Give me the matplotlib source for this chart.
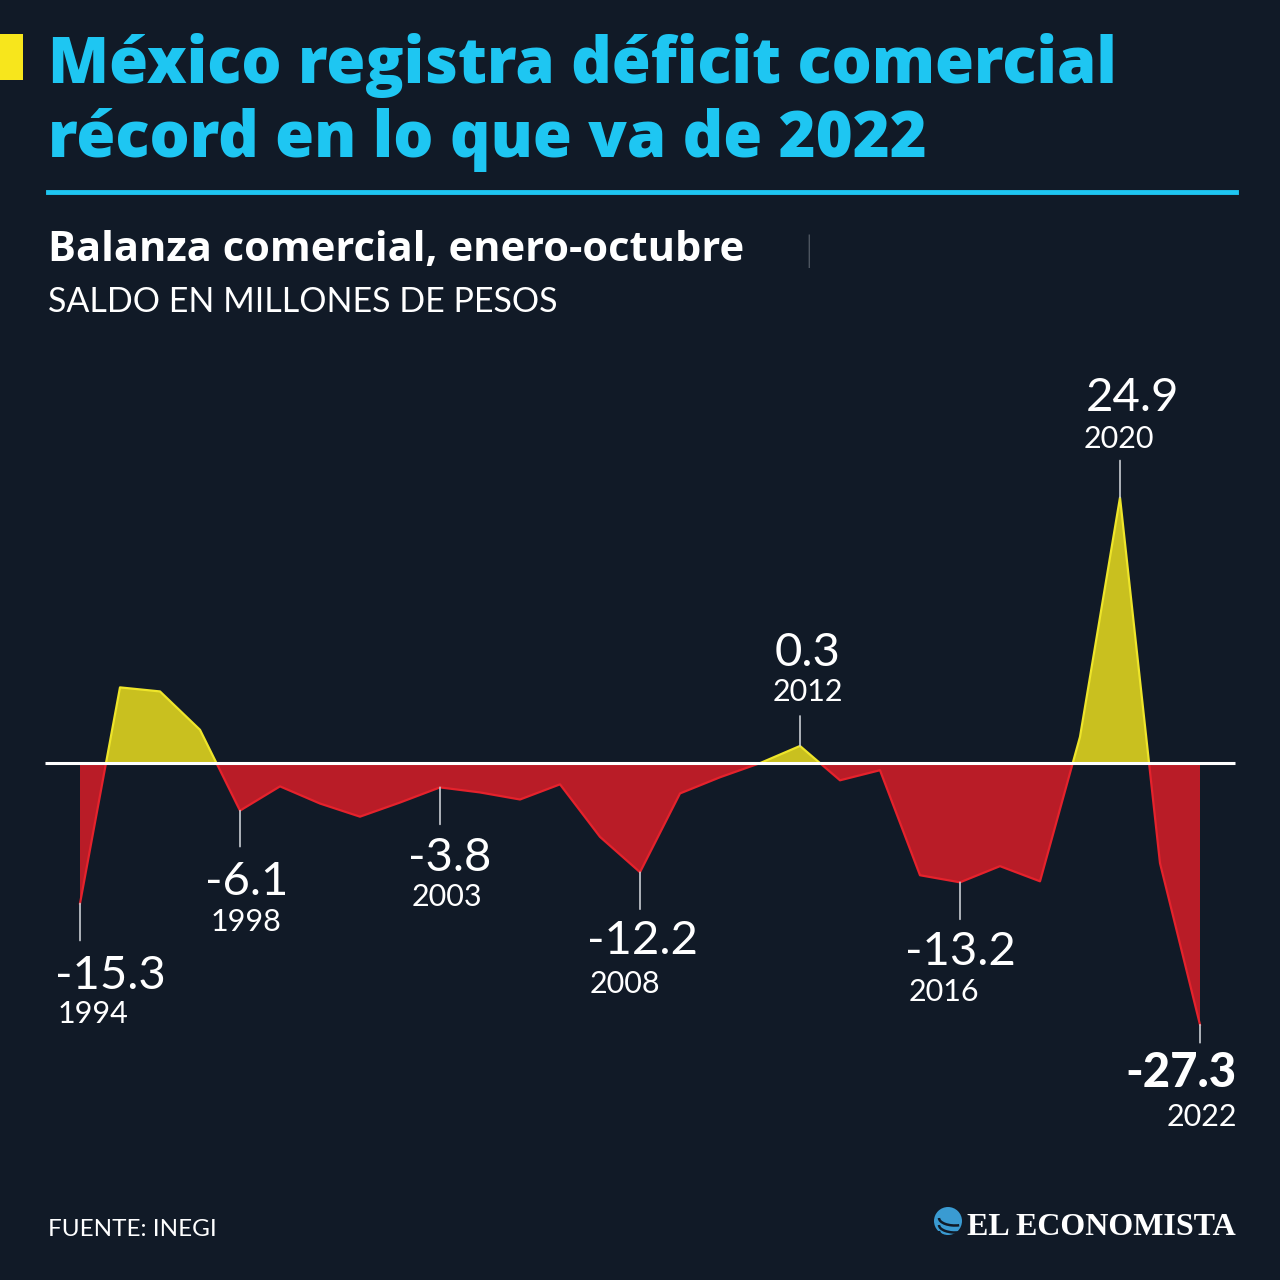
import matplotlib
matplotlib.use("Agg")
import matplotlib.pyplot as plt
from matplotlib.patches import Rectangle, Circle, Arc
import numpy as np

# ---------------- data ----------------
years = list(range(1994, 2023))
balance = [-15.3, 6.1, 5.7, 1.9, -6.1, -3.7, -5.4, -6.7, -5.3, -3.8,
           -4.3, -5.0, -3.5, -8.7, -12.2, -4.4, -2.8, -1.4, 0.3, -3.1,
           -2.1, -12.5, -13.2, -11.6, -13.1, 1.2, 24.9, -11.3, -27.3]
labeled_years = [1994, 1998, 2003, 2008, 2012, 2016, 2020, 2022]

title_lines = ["México registra déficit comercial", "récord en lo que va de 2022"]
subtitle = "Balanza comercial, enero-octubre"
unit_text = "SALDO EN MILLONES DE PESOS"
source_text = "FUENTE: INEGI"
brand_text = "EL ECONOMISTA"

# ---------------- style ----------------
BG = "#111a27"
CYAN = "#1ec6f2"
YEL_FILL = "#c9c01f"
YEL_EDGE = "#eee52a"
RED_FILL = "#b91c27"
RED_EDGE = "#e5222c"
WHITE = "#ffffff"
LEAD = "#c8ccd2"
BASE = -1.4   # level of the white rule where colours split

W = H = 1280
fig = plt.figure(figsize=(12.8, 12.8), dpi=100, facecolor=BG)
ax = fig.add_axes([0, 0, 1, 1])
ax.set_facecolor(BG)
ax.set_xlim(1992, 2024)
ax.set_ylim((749 - 1280) / 10.1, 749 / 10.1)
ax.axis("off")

def fx(px):
    return px / W

def fy(py):
    return 1 - py / H

yv = np.array(balance)
xv = np.array(years)
ax.fill_between(xv, yv, BASE, where=yv >= BASE, interpolate=True,
                color=YEL_FILL, lw=0, zorder=2)
ax.fill_between(xv, yv, BASE, where=yv <= BASE, interpolate=True,
                color=RED_FILL, lw=0, zorder=2)

l_up, = ax.plot(xv, yv, color=YEL_EDGE, lw=1.6, zorder=3)
l_up.set_clip_path(Rectangle((1990, BASE), 40, 200, transform=ax.transData))
l_dn, = ax.plot(xv, yv, color=RED_EDGE, lw=1.6, zorder=3)
l_dn.set_clip_path(Rectangle((1990, BASE - 200), 40, 200, transform=ax.transData))

ax.hlines(BASE, 1993.125, 2022.875, color=WHITE, lw=2.2, zorder=4)

# label placement (pixel offsets from the point): value dx, dy, year dx, dy, lead length
offsets = {
    1994: (30, -72, 13, -110, -37),
    1998: (7, -71, 6, -111, -36),
    2003: (10, -71, 7, -110, -37),
    2008: (2, -69, -15, -112, -37),
    2012: (8, 93, 8, 54, 30),
    2016: (0, -70, -16, -110, -37),
    2020: (12, 100, -1, 59, 37),
}
VAL_FONT = dict(family="Lato", weight="normal", size=34, color=WHITE)
YR_FONT = dict(family="Lato", weight="normal", size=22, color=WHITE)

for yr in labeled_years:
    v = balance[years.index(yr)]
    txt = f"{v:.1f}"
    if yr == 2022:
        ax.annotate("", xy=(yr, v), xytext=(0, -18), textcoords="offset pixels",
                    arrowprops=dict(arrowstyle="-", color=LEAD, lw=1.2,
                                    shrinkA=0, shrinkB=0), zorder=5)
        ax.annotate(txt, xy=(yr, v), xytext=(37, -48), textcoords="offset pixels",
                    ha="right", va="center", family="Lato", weight="black",
                    size=34, color=WHITE)
        ax.annotate(str(yr), xy=(yr, v), xytext=(37, -92), textcoords="offset pixels",
                    ha="right", va="center", **YR_FONT)
        continue
    vdx, vdy, ydx, ydy, ld = offsets[yr]
    ax.annotate("", xy=(yr, v), xytext=(0, ld), textcoords="offset pixels",
                arrowprops=dict(arrowstyle="-", color=LEAD, lw=1.2,
                                shrinkA=0, shrinkB=0), zorder=5)
    ax.annotate(txt, xy=(yr, v), xytext=(vdx, vdy), textcoords="offset pixels",
                ha="center", va="center", **VAL_FONT)
    ax.annotate(str(yr), xy=(yr, v), xytext=(ydx, ydy), textcoords="offset pixels",
                ha="center", va="center", **YR_FONT)

# ---------------- header ----------------
fig.patches.append(Rectangle((fx(0), fy(80)), fx(23), 46 / H, transform=fig.transFigure,
                             facecolor="#f7e61c", edgecolor="none"))
fig.text(fx(48), fy(83), title_lines[0], family="Open Sans", weight="heavy", size=45.5,
         color=CYAN, ha="left", va="baseline")
fig.text(fx(48), fy(157), title_lines[1], family="Open Sans", weight="heavy", size=45.5,
         color=CYAN, ha="left", va="baseline")
fig.add_artist(plt.Line2D([fx(48), fx(1236)], [fy(192), fy(192)], color=CYAN, lw=3.5,
                          transform=fig.transFigure))
fig.text(fx(48), fy(261), subtitle, family="Open Sans", weight="bold", size=30,
         color=WHITE, ha="left", va="baseline")
fig.text(fx(804), fy(261), "|", family="Lato", weight="light", size=26,
         color="#d0d4da", ha="left", va="baseline")
fig.text(fx(48), fy(312), unit_text, family="Lato", weight="normal", size=24.5,
         color=WHITE, ha="left", va="baseline")

# ---------------- footer ----------------
fig.text(fx(48), fy(1236), source_text, family=["Liberation Sans Narrow", "Lato"],
         size=17.5, color=WHITE, ha="left", va="baseline")
fig.text(fx(1236), fy(1235), brand_text, family="Liberation Serif", weight="bold",
         size=23, color=WHITE, ha="right", va="baseline")
gx, gy, gr = 948, 1221, 14
fig.patches.append(Circle((fx(gx), fy(gy)), gr / W, transform=fig.transFigure,
                          facecolor="#3a9bd2", edgecolor="none"))
for dy in [-3, 4, 10]:
    fig.patches.append(Arc((fx(gx + 7), fy(gy + dy)), 32 / W, 15 / H, theta1=180, theta2=300,
                           transform=fig.transFigure, color=BG, lw=1.8))

fig.savefig("out.png", dpi=100, facecolor=BG)
